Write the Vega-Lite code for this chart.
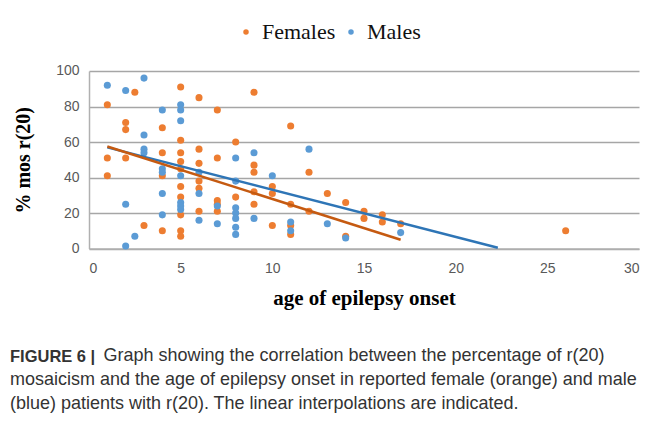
{
  "$schema": "https://vega.github.io/schema/vega-lite/v6.json",
  "width": 550,
  "height": 177.6,
  "autosize": "none",
  "padding": {"left": 89, "top": 71, "right": 16, "bottom": 176},
  "background": "white",
  "datasets": {
    "points": [
      {"age": 1, "pct": 81, "sex": "Females"},
      {"age": 1, "pct": 51, "sex": "Females"},
      {"age": 1, "pct": 41, "sex": "Females"},
      {"age": 2, "pct": 71, "sex": "Females"},
      {"age": 2, "pct": 67, "sex": "Females"},
      {"age": 2, "pct": 51, "sex": "Females"},
      {"age": 2.5, "pct": 88, "sex": "Females"},
      {"age": 3, "pct": 13, "sex": "Females"},
      {"age": 4, "pct": 68, "sex": "Females"},
      {"age": 4, "pct": 54, "sex": "Females"},
      {"age": 4, "pct": 41, "sex": "Females"},
      {"age": 4, "pct": 10, "sex": "Females"},
      {"age": 5, "pct": 91, "sex": "Females"},
      {"age": 5, "pct": 61, "sex": "Females"},
      {"age": 5, "pct": 54, "sex": "Females"},
      {"age": 5, "pct": 49, "sex": "Females"},
      {"age": 5, "pct": 45, "sex": "Females"},
      {"age": 5, "pct": 35, "sex": "Females"},
      {"age": 5, "pct": 29, "sex": "Females"},
      {"age": 5, "pct": 19, "sex": "Females"},
      {"age": 5, "pct": 10, "sex": "Females"},
      {"age": 5, "pct": 7, "sex": "Females"},
      {"age": 6, "pct": 85, "sex": "Females"},
      {"age": 6, "pct": 56, "sex": "Females"},
      {"age": 6, "pct": 48, "sex": "Females"},
      {"age": 6, "pct": 38, "sex": "Females"},
      {"age": 6, "pct": 34, "sex": "Females"},
      {"age": 6, "pct": 21, "sex": "Females"},
      {"age": 7, "pct": 78, "sex": "Females"},
      {"age": 7, "pct": 51, "sex": "Females"},
      {"age": 7, "pct": 27, "sex": "Females"},
      {"age": 7, "pct": 25, "sex": "Females"},
      {"age": 7, "pct": 21, "sex": "Females"},
      {"age": 8, "pct": 60, "sex": "Females"},
      {"age": 8, "pct": 29, "sex": "Females"},
      {"age": 9, "pct": 88, "sex": "Females"},
      {"age": 9, "pct": 47, "sex": "Females"},
      {"age": 9, "pct": 43, "sex": "Females"},
      {"age": 9, "pct": 32, "sex": "Females"},
      {"age": 9, "pct": 25, "sex": "Females"},
      {"age": 10, "pct": 35, "sex": "Females"},
      {"age": 10, "pct": 31, "sex": "Females"},
      {"age": 10, "pct": 13, "sex": "Females"},
      {"age": 11, "pct": 69, "sex": "Females"},
      {"age": 11, "pct": 25, "sex": "Females"},
      {"age": 11, "pct": 13, "sex": "Females"},
      {"age": 11, "pct": 8, "sex": "Females"},
      {"age": 12, "pct": 43, "sex": "Females"},
      {"age": 12, "pct": 21, "sex": "Females"},
      {"age": 13, "pct": 31, "sex": "Females"},
      {"age": 14, "pct": 26, "sex": "Females"},
      {"age": 14, "pct": 7, "sex": "Females"},
      {"age": 15, "pct": 21, "sex": "Females"},
      {"age": 15, "pct": 17, "sex": "Females"},
      {"age": 16, "pct": 19, "sex": "Females"},
      {"age": 16, "pct": 15, "sex": "Females"},
      {"age": 17, "pct": 14, "sex": "Females"},
      {"age": 26, "pct": 10, "sex": "Females"},
      {"age": 1, "pct": 92, "sex": "Males"},
      {"age": 2, "pct": 89, "sex": "Males"},
      {"age": 2, "pct": 25, "sex": "Males"},
      {"age": 2, "pct": 1.5, "sex": "Males"},
      {"age": 2.5, "pct": 7, "sex": "Males"},
      {"age": 3, "pct": 96, "sex": "Males"},
      {"age": 3, "pct": 64, "sex": "Males"},
      {"age": 3, "pct": 56, "sex": "Males"},
      {"age": 3, "pct": 54, "sex": "Males"},
      {"age": 4, "pct": 78, "sex": "Males"},
      {"age": 4, "pct": 45, "sex": "Males"},
      {"age": 4, "pct": 43, "sex": "Males"},
      {"age": 4, "pct": 31, "sex": "Males"},
      {"age": 4, "pct": 19, "sex": "Males"},
      {"age": 5, "pct": 81, "sex": "Males"},
      {"age": 5, "pct": 78, "sex": "Males"},
      {"age": 5, "pct": 72, "sex": "Males"},
      {"age": 5, "pct": 41, "sex": "Males"},
      {"age": 5, "pct": 26, "sex": "Males"},
      {"age": 5, "pct": 24, "sex": "Males"},
      {"age": 5, "pct": 22, "sex": "Males"},
      {"age": 6, "pct": 43, "sex": "Males"},
      {"age": 6, "pct": 31, "sex": "Males"},
      {"age": 6, "pct": 16, "sex": "Males"},
      {"age": 7, "pct": 24, "sex": "Males"},
      {"age": 7, "pct": 14, "sex": "Males"},
      {"age": 8, "pct": 51, "sex": "Males"},
      {"age": 8, "pct": 38, "sex": "Males"},
      {"age": 8, "pct": 23, "sex": "Males"},
      {"age": 8, "pct": 20, "sex": "Males"},
      {"age": 8, "pct": 17, "sex": "Males"},
      {"age": 8, "pct": 12, "sex": "Males"},
      {"age": 8, "pct": 8, "sex": "Males"},
      {"age": 9, "pct": 54, "sex": "Males"},
      {"age": 9, "pct": 17, "sex": "Males"},
      {"age": 10, "pct": 41, "sex": "Males"},
      {"age": 11, "pct": 15, "sex": "Males"},
      {"age": 11, "pct": 10, "sex": "Males"},
      {"age": 12, "pct": 56, "sex": "Males"},
      {"age": 13, "pct": 14, "sex": "Males"},
      {"age": 14, "pct": 6, "sex": "Males"},
      {"age": 17, "pct": 9, "sex": "Males"}
    ],
    "trend": [
      {"age": 1, "pct": 57, "sex": "Males"},
      {"age": 22.3, "pct": 0.5, "sex": "Males"},
      {"age": 1, "pct": 57.5, "sex": "Females"},
      {"age": 17, "pct": 5, "sex": "Females"}
    ]
  },
  "title": {
    "text": "FIGURE 6 |",
    "subtitle": [
      "\u200b\u2003\u2003\u2003\u2003\u2003\u2009Graph showing the correlation between the percentage of r(20)",
      "mosaicism and the age of epilepsy onset in reported female (orange) and male",
      "(blue) patients with r(20). The linear interpolations are indicated."
    ],
    "orient": "bottom",
    "anchor": "start",
    "frame": "group",
    "dx": -79,
    "offset": 40,
    "font": "Liberation Sans",
    "fontSize": 16.5,
    "fontWeight": "bold",
    "color": "#333333",
    "lineHeight": 23,
    "subtitleFont": "Liberation Sans",
    "subtitleFontSize": 18,
    "subtitleFontWeight": "normal",
    "subtitleColor": "#333333",
    "subtitleLineHeight": 24,
    "subtitlePadding": -18
  },
  "encoding": {
    "x": {
      "field": "age", "type": "quantitative",
      "scale": {"domain": [0, 30], "nice": false},
      "axis": {"values": [0, 5, 10, 15, 20, 25, 30], "title": "age of epilepsy onset", "labelOverlap": false}
    },
    "y": {
      "field": "pct", "type": "quantitative",
      "scale": {"domain": [0, 100], "nice": false},
      "axis": {"values": [0, 20, 40, 60, 80, 100], "title": "% mos r(20)", "grid": true, "labelOverlap": false}
    }
  },
  "layer": [
    {
      "data": {"name": "points"},
      "mark": {"type": "circle", "size": 50, "opacity": 1},
      "encoding": {
        "color": {
          "field": "sex", "type": "nominal",
          "scale": {"domain": ["Females", "Males"], "range": ["#ed7d31", "#5b9bd5"]},
          "legend": {
            "title": null,
            "orient": "none",
            "direction": "horizontal",
            "legendX": 146,
            "legendY": -50,
            "symbolType": "circle",
            "symbolSize": 30,
            "labelFont": "Liberation Serif",
            "labelFontSize": 22,
            "labelColor": "#111111",
            "labelOffset": 5,
            "columnPadding": 4
          }
        }
      }
    },
    {
      "data": {"name": "trend"},
      "transform": [{"filter": "datum.sex === 'Males'"}],
      "mark": {"type": "line", "color": "#2e75b6", "strokeWidth": 2.5}
    },
    {
      "data": {"name": "trend"},
      "transform": [{"filter": "datum.sex === 'Females'"}],
      "mark": {"type": "line", "color": "#c55a11", "strokeWidth": 2.5}
    }
  ],
  "config": {
    "view": {"stroke": null},
    "axis": {
      "labelFont": "Liberation Sans",
      "labelFontSize": 14,
      "labelColor": "#595959",
      "ticks": false,
      "domainColor": "#b0b0b0",
      "domainWidth": 1.5,
      "gridColor": "#a6a6a6",
      "gridWidth": 1.5,
      "titleFont": "Liberation Serif",
      "titleFontWeight": "bold",
      "titleColor": "#000000"
    },
    "axisX": {"grid": false, "labelPadding": 13, "titleFontSize": 21, "titlePadding": 12},
    "axisY": {"labelPadding": 10, "titleFontSize": 20, "titlePadding": 22}
  }
}
